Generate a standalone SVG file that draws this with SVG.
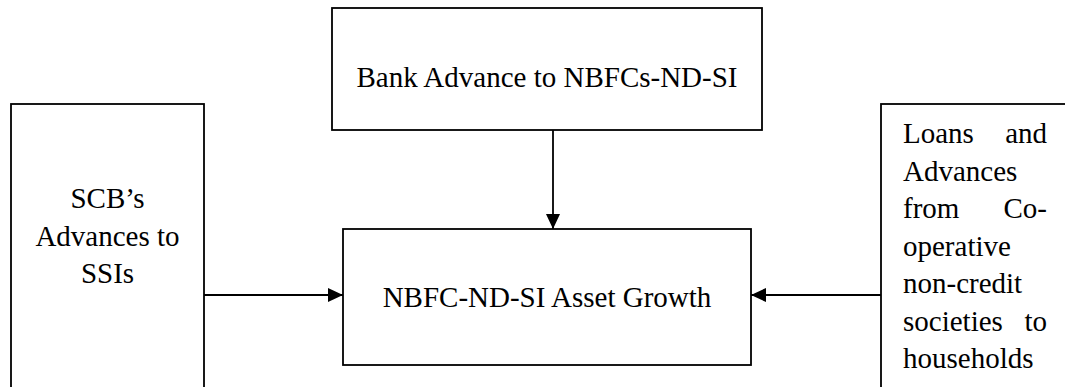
<svg xmlns="http://www.w3.org/2000/svg" width="1065" height="387" viewBox="0 0 1065 387">
<style>
.box{fill:#fff;stroke:#000;stroke-width:1.8}
.t{font-family:"Liberation Serif","Times New Roman",serif;font-size:29px;fill:#000}
.c{text-anchor:middle}
.e{text-anchor:end}
.conn{stroke:#000;stroke-width:1.8;fill:none}
</style>
<defs>
<marker id="ah" markerWidth="15" markerHeight="14" refX="15" refY="7" orient="auto" markerUnits="userSpaceOnUse">
<path d="M0,0 L15,7 L0,14 Z" fill="#000"/>
</marker>
</defs>
<rect width="1065" height="387" fill="#fff"/>
<g id="top">
<rect class="box" x="332" y="8" width="430" height="122"/>
<text class="t c" x="547" y="87">Bank Advance to NBFCs-ND-SI</text>
</g>
<g id="left">
<rect class="box" x="11" y="104" width="193" height="300"/>
<text class="t c" x="107.5" y="208">SCB’s</text>
<text class="t c" x="107.5" y="245.5">Advances to</text>
<text class="t c" x="107.5" y="283">SSIs</text>
</g>
<g id="center">
<rect class="box" x="343" y="229" width="408" height="136"/>
<text class="t c" x="547" y="307">NBFC-ND-SI Asset Growth</text>
</g>
<g id="right">
<rect class="box" x="881" y="104" width="200" height="300"/>
<text class="t" x="903" y="143">Loans</text><text class="t e" x="1047" y="143">and</text>
<text class="t" x="903" y="180.5">Advances</text>
<text class="t" x="903" y="218">from</text><text class="t e" x="1047" y="218">Co-</text>
<text class="t" x="903" y="255.5">operative</text>
<text class="t" x="903" y="293">non-credit</text>
<text class="t" x="903" y="330.5">societies</text><text class="t e" x="1047" y="330.5">to</text>
<text class="t" x="903" y="368">households</text>
</g>
<g id="connectors">
<line class="conn" x1="553" y1="130" x2="553" y2="229" marker-end="url(#ah)"/>
<line class="conn" x1="204" y1="295" x2="343" y2="295" marker-end="url(#ah)"/>
<line class="conn" x1="881" y1="295" x2="751" y2="295" marker-end="url(#ah)"/>
</g>
</svg>
